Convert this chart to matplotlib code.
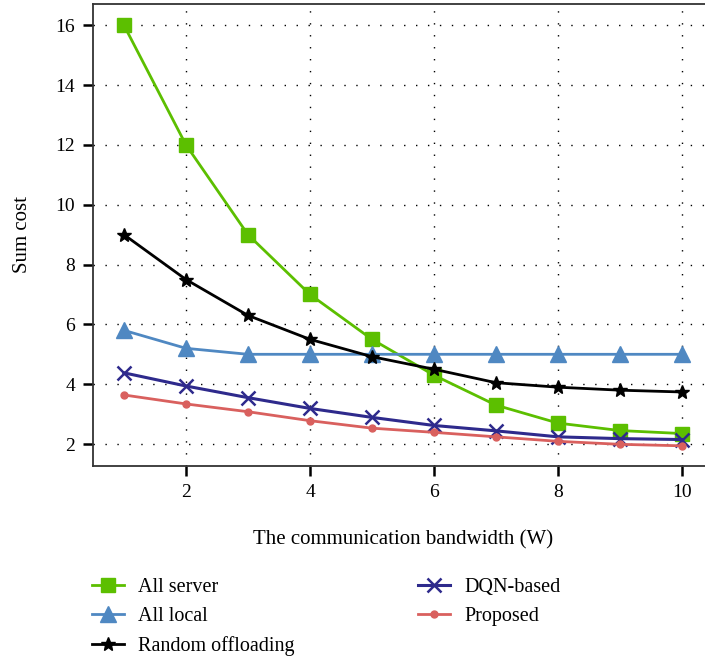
import matplotlib
matplotlib.use("Agg")
import matplotlib.pyplot as plt

bandwidth = [1, 2, 3, 4, 5, 6, 7, 8, 9, 10]
all_server = [16.0, 12.0, 9.0, 7.0, 5.5, 4.3, 3.3, 2.7, 2.45, 2.35]
all_local = [5.8, 5.2, 5.0, 5.0, 5.0, 5.0, 5.0, 5.0, 5.0, 5.0]
random_off = [9.0, 7.5, 6.3, 5.5, 4.92, 4.5, 4.05, 3.9, 3.8, 3.74]
dqn_based = [4.38, 3.94, 3.55, 3.19, 2.89, 2.62, 2.44, 2.24, 2.18, 2.15]
proposed = [3.64, 3.34, 3.08, 2.78, 2.53, 2.39, 2.24, 2.09, 1.99, 1.94]

xticks = [2, 4, 6, 8, 10]
yticks = [2, 4, 6, 8, 10, 12, 14, 16]

plt.rcParams['font.family'] = ['Liberation Serif', 'DejaVu Serif']

W, H = 705, 659
fig = plt.figure(figsize=(W / 100, H / 100), dpi=100)
left, right, top, bottom = 93, 713, 3.5, 466
ax = fig.add_axes([left / W, 1 - bottom / H, (right - left) / W, (bottom - top) / H])

l1, = ax.plot(bandwidth, all_server, color='#5cbf00', lw=2, marker='s', ms=10, label='All server')
l2, = ax.plot(bandwidth, all_local, color='#4f88c2', lw=2, marker='^', ms=11, label='All local')
l3, = ax.plot(bandwidth, random_off, color='black', lw=2, marker='*', ms=10, label='Random offloading')
l4, = ax.plot(bandwidth, dqn_based, color='#2e2a8c', lw=2.2, marker='x', ms=10, mew=1.8, label='DQN-based')
l5, = ax.plot(bandwidth, proposed, color='#d9605e', lw=2, marker='o', ms=5, label='Proposed')

ax.set_xlim(0.5, 10.5)
ax.set_ylim(1.265, 16.73)
ax.set_xticks(xticks)
ax.set_yticks(yticks)
ax.tick_params(direction='out', length=7, width=1.8, labelsize=14, pad=6)
ax.grid(True, color='black', linestyle=(0, (1, 7.6)), linewidth=1)
for s in ax.spines.values():
    s.set_linewidth(1.3)
    s.set_color('#333333')

ax.set_xlabel('The communication bandwidth (W)', fontsize=15, labelpad=21)
ax.set_ylabel('Sum cost', fontsize=15)
ax.yaxis.set_label_coords(-61 / (right - left), 0.5)

leg = fig.legend(handles=[l1, l2, l3, l4, l5], ncol=2, loc='upper left',
                 bbox_to_anchor=(92 / W, 1 - 578 / H), frameon=False, fontsize=14.5,
                 handlelength=1.6, handletextpad=0.7, columnspacing=6.1,
                 labelspacing=0.5, borderaxespad=0, borderpad=0)

fig.savefig('out.png', dpi=100)
